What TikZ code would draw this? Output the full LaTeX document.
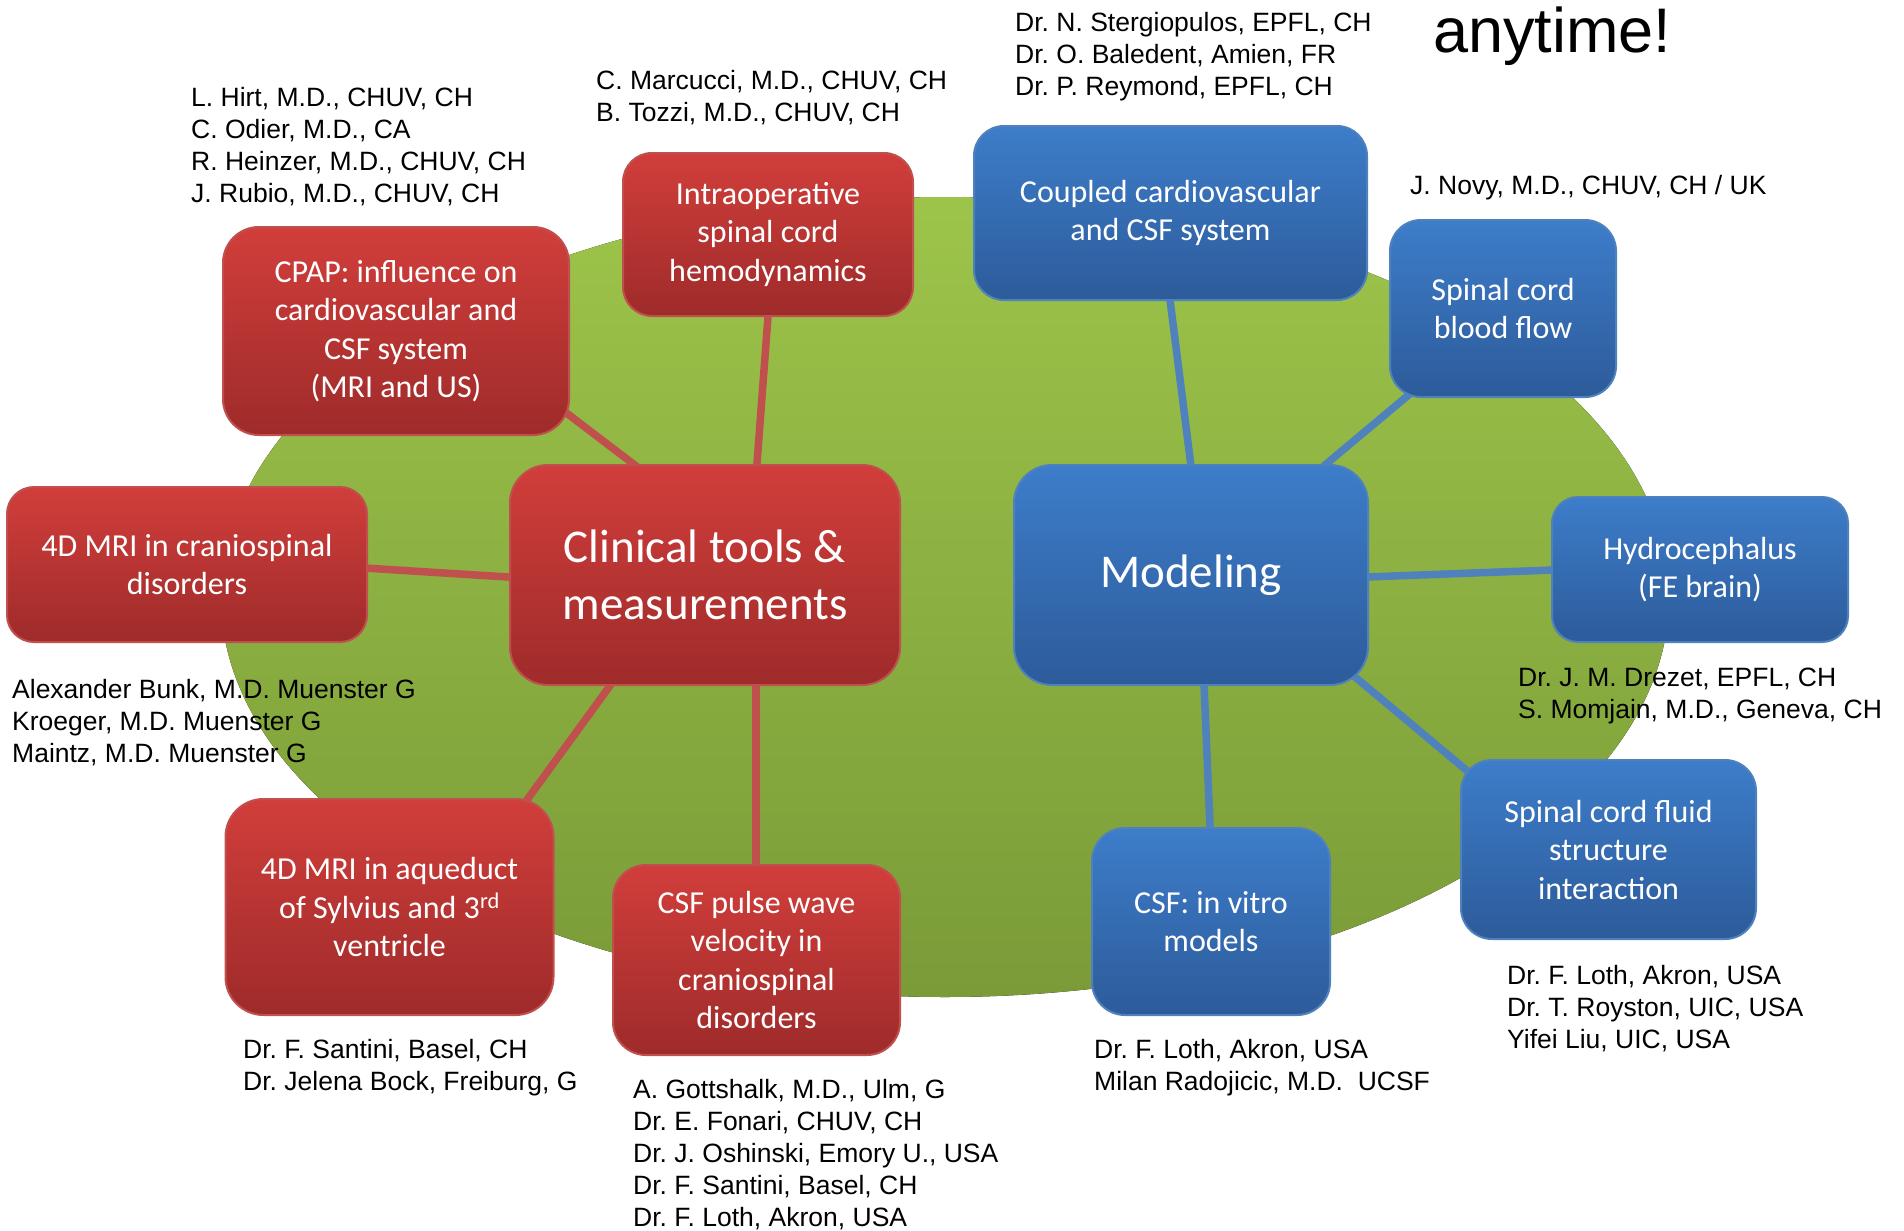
\documentclass[tikz,border=0pt]{standalone}
\usepackage{fontspec}
\setmainfont{Carlito}
\newfontfamily\namefont{Liberation Sans}
\frenchspacing
\definecolor{redtop}{RGB}{209,62,59}
\definecolor{redbot}{RGB}{158,43,42}
\definecolor{redline}{RGB}{192,80,77}
\definecolor{bluetop}{RGB}{61,125,202}
\definecolor{bluebot}{RGB}{45,91,154}
\definecolor{blueline}{RGB}{79,129,189}
\definecolor{greentop}{RGB}{157,196,74}
\definecolor{greenbot}{RGB}{122,155,56}
\pgfdeclarelayer{ell}
\pgfdeclarelayer{con}
\pgfsetlayers{ell,con,main}
\tikzset{
  box/.style={rectangle, line width=2pt, text=white, align=center, inner sep=0pt,
    font=\fontsize{32}{38.5}\selectfont},
  redbox/.style={box, draw=redline, top color=redtop, bottom color=redbot},
  bluebox/.style={box, draw=blueline, top color=bluetop, bottom color=bluebot},
  bigtext/.style={font=\fontsize{47}{57}\selectfont},
  names/.style={anchor=north west, inner sep=0pt, align=left, text=black,
    font=\namefont\fontsize{26.5}{32}\selectfont},
  redcon/.style={draw=redline, line width=7.5pt},
  bluecon/.style={draw=blueline, line width=7.5pt},
}
\begin{document}
\begin{tikzpicture}[x=1pt,y=-1pt]
\useasboundingbox (0,0) rectangle (1904,1231);

% boxes
\node[redbox, rounded corners=36pt, minimum width=346pt, minimum height=208pt] (cpap) at (396,331)
  {CPAP: influence on\\cardiovascular and\\CSF system\\(MRI and US)};
\node[redbox, rounded corners=29pt, minimum width=290pt, minimum height=163pt] (intra) at (768,234.5)
  {Intraoperative\\spinal cord\\hemodynamics};
\node[bluebox, rounded corners=30pt, minimum width=393pt, minimum height=174pt] (coupled) at (1170.5,213)
  {Coupled cardiovascular\\and CSF system};
\node[bluebox, rounded corners=31pt, minimum width=226pt, minimum height=177pt] (sblood) at (1503,308.5)
  {Spinal cord\\blood flow};
\node[redbox, bigtext, rounded corners=38pt, minimum width=390pt, minimum height=220pt] (clin) at (705,575)
  {Clinical tools \&\\measurements};
\node[bluebox, bigtext, rounded corners=38pt, minimum width=354pt, minimum height=220pt] (model) at (1191,575)
  {Modeling};
\node[redbox, rounded corners=27pt, minimum width=360pt, minimum height=155pt] (mri) at (187,564.5)
  {4D MRI in craniospinal\\disorders};
\node[bluebox, rounded corners=26pt, minimum width=296pt, minimum height=145pt] (hydro) at (1700,569.5)
  {Hydrocephalus\\(FE brain)};
\node[redbox, rounded corners=38pt, minimum width=328pt, minimum height=216pt] (aque) at (389.5,907)
  {4D MRI in aqueduct\\of Sylvius and 3\textsuperscript{rd}\\ventricle};
\node[redbox, rounded corners=33pt, minimum width=287pt, minimum height=190pt] (pulse) at (756.5,960)
  {CSF pulse wave\\velocity in\\craniospinal\\disorders};
\node[bluebox, rounded corners=33pt, minimum width=238pt, minimum height=187pt] (vitro) at (1211,921.5)
  {CSF: in vitro\\models};
\node[bluebox, rounded corners=31pt, minimum width=295pt, minimum height=179pt] (fluid) at (1608.5,849.5)
  {Spinal cord fluid\\structure\\interaction};

% connectors
\begin{pgfonlayer}{con}
\draw[redcon] ([shift={(-44,-90)}]clin.center) -- ([shift={(156,71)}]cpap.center);
\draw[redcon] ([shift={(50,-85)}]clin.center) -- ([shift={(2,55.5)}]intra.center);
\draw[redcon] ([shift={(-165,4)}]clin.center) -- ([shift={(153,2)}]mri.center);
\draw[redcon] ([shift={(-85,97)}]clin.center) -- ([shift={(126.5,-92)}]aque.center);
\draw[redcon] ([shift={(51,85)}]clin.center) -- ([shift={(-0.5,-70)}]pulse.center);
\draw[bluecon] ([shift={(3,-85)}]model.center) -- ([shift={(-3.5,63)}]coupled.center);
\draw[bluecon] ([shift={(109,-89)}]model.center) -- ([shift={(-73,68.5)}]sblood.center);
\draw[bluecon] ([shift={(149,3)}]model.center) -- ([shift={(-120,-0.5)}]hydro.center);
\draw[bluecon] ([shift={(12,85)}]model.center) -- ([shift={(0,-71.5)}]vitro.center);
\draw[bluecon] ([shift={(139,81)}]model.center) -- ([shift={(-118.5,-59.5)}]fluid.center);
\end{pgfonlayer}

\begin{pgfonlayer}{ell}
\fill[white] (0,0) rectangle (1904,1231);
\fill[top color=greentop, bottom color=greenbot] (945,597) ellipse [x radius=724, y radius=400];
\end{pgfonlayer}

% names
\node[names] (hirt) at (191,87) {L. Hirt, M.D., CHUV, CH\\C. Odier, M.D., CA\\R. Heinzer, M.D., CHUV, CH\\J. Rubio, M.D., CHUV, CH};
\node[names] (marc) at (596,70) {C. Marcucci, M.D., CHUV, CH\\B. Tozzi, M.D., CHUV, CH};
\node[names] (sterg) at (1015,12) {Dr. N. Stergiopulos, EPFL, CH\\Dr. O. Baledent, Amien, FR\\Dr. P. Reymond, EPFL, CH};
\node[anchor=base west, inner sep=0pt, font=\namefont\fontsize{63}{70}\selectfont] (any) at (1433,53) {anytime!};
\node[names] (novy) at (1410,175) {J. Novy, M.D., CHUV, CH / UK};
\node[names] (drez) at (1518,668) {Dr. J. M. Drezet, EPFL, CH\\S. Momjain, M.D., Geneva, CH};
\node[names] (lothr) at (1507,965) {Dr. F. Loth, Akron, USA\\Dr. T. Royston, UIC, USA\\Yifei Liu, UIC, USA};
\node[names] (lothv) at (1094,1039) {Dr. F. Loth, Akron, USA\\Milan Radojicic, M.D.\ \ UCSF};
\node[names] (gott) at (633,1079) {A. Gottshalk, M.D., Ulm, G\\Dr. E. Fonari, CHUV, CH\\Dr. J. Oshinski, Emory U., USA\\Dr. F. Santini, Basel, CH\\Dr. F. Loth, Akron, USA};
\node[names] (sant) at (243,1039) {Dr. F. Santini, Basel, CH\\Dr. Jelena Bock, Freiburg, G};
\node[names] (bunk) at (12,679) {Alexander Bunk, M.D. Muenster G\\Kroeger, M.D. Muenster G\\Maintz, M.D. Muenster G};
\end{tikzpicture}
\end{document}
